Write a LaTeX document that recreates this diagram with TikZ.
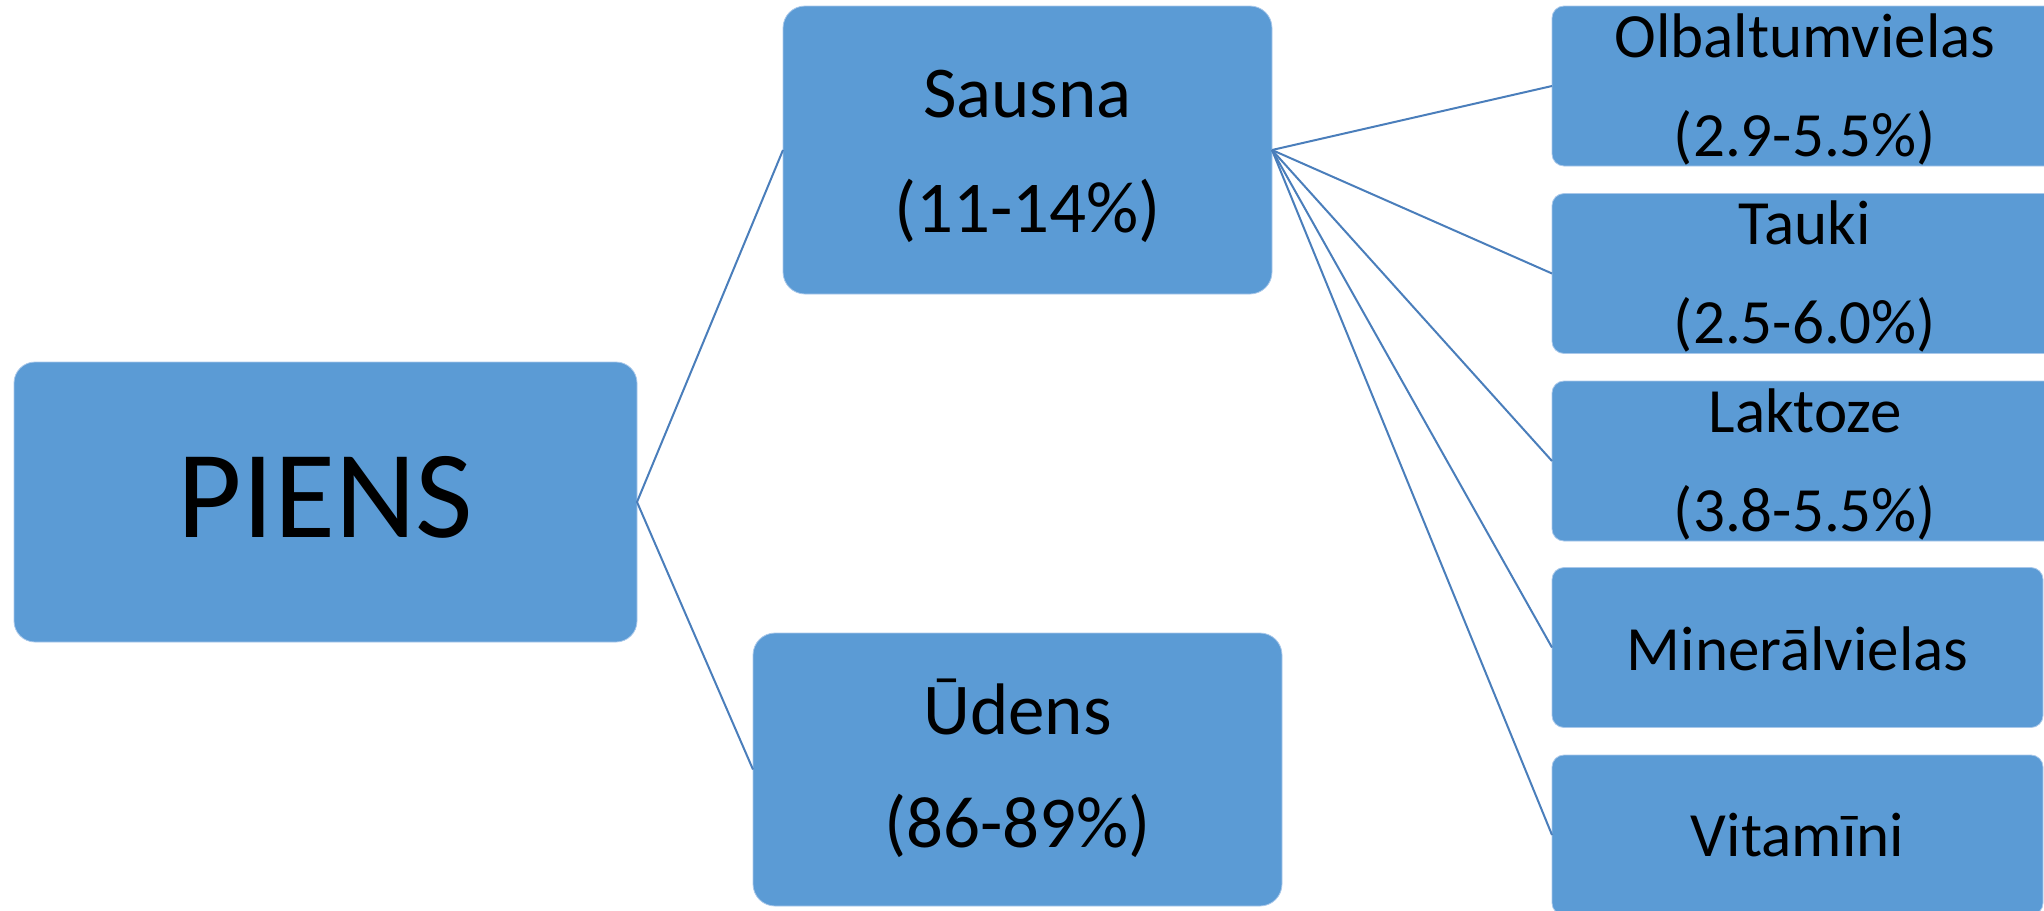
\documentclass[tikz,border=0pt]{standalone}
\usepackage{fontspec}
\setmainfont{Carlito}
\definecolor{boxblue}{HTML}{5B9BD5}
\definecolor{boxedge}{HTML}{A9C8EA}
\definecolor{linkblue}{HTML}{4A7EBB}
\begin{document}
\begin{tikzpicture}[x=0.5pt,y=-0.5pt,
  box/.style={fill=boxblue, draw=boxedge, line width=0.4pt, inner sep=0pt, outer sep=0pt},
  rootbox/.style={box, minimum width=311.5pt, minimum height=140pt, rounded corners=10.5pt},
  midbox/.style={box, minimum height=#1, rounded corners=11pt},
  leafbox/.style={box, minimum width=#1, minimum height=80pt, rounded corners=6pt},
  txt/.style={anchor=base, inner sep=0pt, text=black},
  roottxt/.style={txt, font=\fontsize{62.5}{75}\selectfont},
  midtxt/.style={txt, font=\fontsize{36.5}{44}\selectfont},
  leaftxt/.style={txt, font=\fontsize{31.5}{38}\selectfont},
  link/.style={draw=linkblue, line width=1pt}]
\clip (0,0) rectangle (2044,910);

% boxes
\node[rootbox] (piens) at (325.5,502) {};
\node[midbox=144pt, minimum width=244.5pt] (sausna) at (1027.5,150) {};
\node[midbox=136.5pt, minimum width=264.5pt] (udens) at (1017.5,769.5) {};
\node[leafbox=253pt] (olb) at (1805,86) {};
\node[leafbox=253pt] (tauki) at (1805,273.5) {};
\node[leafbox=253pt] (lakt) at (1805,461) {};
\node[leafbox=245.5pt] (miner) at (1797.5,647.5) {};
\node[leafbox=245.5pt] (vitam) at (1797.5,835) {};

% labels
\node[roottxt] (piens-t) at (325.5,537) {PIENS};
\node[midtxt] (sausna-t1) at (1027.5,117) {Sausna};
\node[midtxt] (sausna-t2) at (1027.5,232) {(11-14\%)};
\node[midtxt] (udens-t1) at (1017.5,734) {Ūdens};
\node[midtxt] (udens-t2) at (1017.5,847) {(86-89\%)};
\node[leaftxt] (olb-t1) at (1805,57) {Olbaltumvielas};
\node[leaftxt] (olb-t2) at (1805,156) {(2.9-5.5\%)};
\node[leaftxt] (tauki-t1) at (1805,244.5) {Tauki};
\node[leaftxt] (tauki-t2) at (1805,343.5) {(2.5-6.0\%)};
\node[leaftxt] (lakt-t1) at (1805,432) {Laktoze};
\node[leaftxt] (lakt-t2) at (1805,531) {(3.8-5.5\%)};
\node[leaftxt] (miner-t) at (1797.5,670) {Minerālvielas};
\node[leaftxt] (vitam-t) at (1797.5,856) {Vitamīni};

% connectors
\draw[link] (sausna.west) -- (piens.east) -- (udens.west);
\foreach \leaf in {olb,tauki,lakt,miner,vitam}
  \draw[link] (sausna.east) -- (\leaf.west);
\end{tikzpicture}
\end{document}
